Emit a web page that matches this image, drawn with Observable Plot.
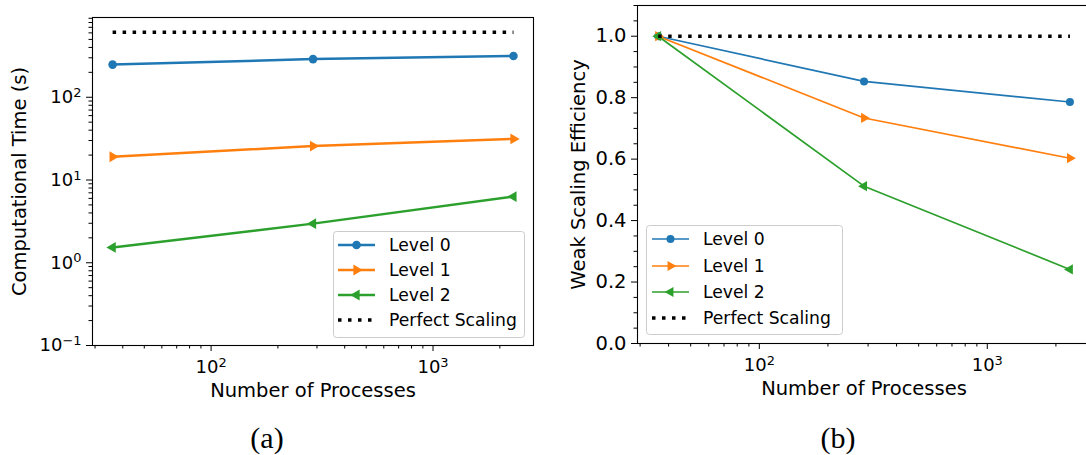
<!DOCTYPE html>
<html><head><meta charset="utf-8">
<script src="https://cdn.jsdelivr.net/npm/d3@7"></script>
<script src="https://cdn.jsdelivr.net/npm/@observablehq/plot@0.6"></script>
<style>
html,body{margin:0;padding:0;background:#fff;overflow:hidden;}
#wrap{position:relative;width:1086px;height:455px;font-family:"DejaVu Sans",sans-serif;}
.panel{position:absolute;top:0;overflow:hidden;}
.panel svg{max-width:none;}
.legend{position:absolute;overflow:visible;}
.cap{position:absolute;font-family:"Liberation Serif","DejaVu Serif",serif;font-size:30px;transform:translate(-50%,-50%);line-height:1;}
</style></head><body><div id="wrap"></div>
<script>
// ---------- data ----------
const processes = [36, 288, 2304];
const seriesNames = ["Level 0", "Level 1", "Level 2"];
const perfectName = "Perfect Scaling";
const timeLevel0 = [248, 289, 315];
const timeLevel1 = [19.1, 25.7, 31.4];
const timeLevel2 = [1.53, 2.97, 6.3];
const timePerfect = [610, 610, 610];
const effLevel0 = [1.0, 0.853, 0.786];
const effLevel1 = [1.0, 0.734, 0.603];
const effLevel2 = [1.0, 0.512, 0.241];
const effPerfect = [1.0, 1.0, 1.0];
// ---------- ticks / labels ----------
const xMajorTicks = [100, 1000];
const xMinorTicks = [30, 40, 50, 60, 70, 80, 90, 200, 300, 400, 500, 600, 700, 800, 900, 2000];
const timeMajorTicks = [0.1, 1, 10, 100];
const timeMinorTicks = [0.2,0.3,0.4,0.5,0.6,0.7,0.8,0.9,2,3,4,5,6,7,8,9,20,30,40,50,60,70,80,90,200,300,400,500,600,700,800,900];
const effMajorTicks = [0, 0.2, 0.4, 0.6, 0.8, 1.0];
const effMinorTicks = [0.05,0.1,0.15,0.25,0.3,0.35,0.45,0.5,0.55,0.65,0.7,0.75,0.85,0.9,0.95,1.05,1.1];
const xLabel = "Number of Processes";
const timeLabel = "Computational Time (s)";
const effLabel = "Weak Scaling Efficiency";
const captions = ["(a)", "(b)"];

const colors = ["#1f77b4", "#ff7f0e", "#2ca02c"];
const symbols = ["circle", "triangle", "triangle"];
const rotations = [0, 90, -90];

// power-of-ten label: "10^k" (k rendered as superscript afterwards)
const powFmt = d => "10^" + Math.round(Math.log10(d));

const toRows = (ys) => processes.map((p, i) => ({p, v: ys[i]}));

function buildPanel(opts) {
  const {series, perfect, yScale, yMajor, yMinor, yFmt, yFont, yLabel, yLabelDx, lw, rDot, rTri, marginTop, marginBottom, width, height} = opts;
  const marks = [];
  series.forEach((ys, i) => {
    const rows = toRows(ys);
    marks.push(Plot.line(rows, {x: "p", y: "v", stroke: colors[i], strokeWidth: lw}));
    marks.push(Plot.dot(rows, {x: "p", y: "v", fill: colors[i], stroke: "none",
      symbol: symbols[i], r: i === 0 ? rDot : rTri, rotate: rotations[i]}));
  });
  marks.push(Plot.line(toRows(perfect), {x: "p", y: "v", stroke: "#000", strokeWidth: 3.5,
    strokeDasharray: "3.5,6.5", strokeLinecap: "butt"}));
  marks.push(Plot.frame({stroke: "#000", strokeWidth: 1.1}));
  marks.push(Plot.axisX({ticks: xMajorTicks, tickFormat: powFmt, tickSize: 6, tickPadding: 9, fontSize: 18, label: null}));
  marks.push(Plot.axisX({ticks: xMinorTicks, tickFormat: () => "", tickSize: 3.5, label: null}));
  marks.push(Plot.axisY({ticks: yMajor, tickFormat: yFmt, tickSize: 6, tickPadding: 5, fontSize: yFont, label: null}));
  marks.push(Plot.axisY({ticks: yMinor, tickFormat: () => "", tickSize: 3.5, label: null}));
  marks.push(Plot.text([xLabel], {frameAnchor: "bottom", dy: 45, text: d => d, fontSize: 19.5, fill: "#000",
    textAnchor: "middle", lineAnchor: "middle"}));
  marks.push(Plot.text([yLabel], {frameAnchor: "left", dx: yLabelDx, rotate: -90, text: d => d, fontSize: 19.5, fill: "#000",
    textAnchor: "middle", lineAnchor: "middle"}));
  const svg = Plot.plot({
    width, height,
    marginLeft: 92, marginRight: opts.marginRight, marginTop, marginBottom,
    style: {fontFamily: "DejaVu Sans", fontSize: "19px", background: "transparent", color: "#000", maxWidth: "none"},
    x: {type: "log", domain: [29.22, 2836], label: null},
    y: {...yScale, label: null},
    marks
  });
  // turn "10^k" into 10 with a raised exponent
  d3.select(svg).selectAll("text").each(function() {
    const t = this.textContent;
    const m = /^10\^(-?\d+)$/.exec(t);
    if (!m) return;
    const el = d3.select(this);
    el.text(null);
    el.append("tspan").text("10");
    el.append("tspan").attr("dy", "-0.48em").attr("font-size", "0.72em")
      .text(m[1].replace("-", "\u2212"));
  });
  return svg;
}

const wrap = document.getElementById("wrap");

function panelDiv(left, w, h) {
  const d = document.createElement("div");
  d.className = "panel";
  d.style.left = left + "px";
  d.style.width = w + "px";
  d.style.height = h + "px";
  wrap.appendChild(d);
  return d;
}

const left = buildPanel({
  series: [timeLevel0, timeLevel1, timeLevel2], perfect: timePerfect,
  yScale: {type: "log", domain: [0.1, 920]}, yMajor: timeMajorTicks, yMinor: timeMinorTicks,
  yFmt: powFmt, yFont: 18, yLabel: timeLabel, yLabelDx: -73, lw: 2.5, rDot: 4.3, rTri: 4,
  marginTop: 17, marginBottom: 70, marginRight: 12, width: 545, height: 415
});
panelDiv(0, 545, 415).appendChild(left);

const right = buildPanel({
  series: [effLevel0, effLevel1, effLevel2], perfect: effPerfect,
  yScale: {type: "linear", domain: [0, 1.1]}, yMajor: effMajorTicks, yMinor: effMinorTicks,
  yFmt: d3.format(".1f"), yFont: 19.5, yLabel: effLabel, yLabelDx: -59, lw: 1.7, rDot: 4, rTri: 3.8,
  marginTop: 5, marginBottom: 72, marginRight: 0, width: 545, height: 415
});
panelDiv(545, 541, 415).appendChild(right);

// ---------- legends ----------
function legend(x, y, w, h, rowY, hx0, hx1, tx, lw, rDot, rTri) {
  const svg = d3.select(wrap).append("svg").attr("class", "legend")
    .style("left", "0px").style("top", "0px").attr("width", 1086).attr("height", 455)
    .style("pointer-events", "none");
  svg.append("rect").attr("x", x + 0.5).attr("y", y + 0.5).attr("width", w).attr("height", h)
    .attr("rx", 3).attr("fill", "#fff").attr("fill-opacity", 0.8).attr("stroke", "#cccccc").attr("stroke-width", 1);
  const mx = (hx0 + hx1) / 2;
  seriesNames.forEach((name, i) => {
    const cy = rowY[i];
    svg.append("line").attr("x1", hx0).attr("x2", hx1).attr("y1", cy).attr("y2", cy)
      .attr("stroke", colors[i]).attr("stroke-width", lw);
    const sym = d3.symbol(i === 0 ? d3.symbolCircle : d3.symbolTriangle, Math.PI * Math.pow(i === 0 ? rDot : rTri, 2));
    svg.append("path").attr("d", sym()).attr("fill", colors[i])
      .attr("transform", `translate(${mx},${cy}) rotate(${rotations[i]})`);
    svg.append("text").attr("x", tx).attr("y", cy).attr("dy", "0.36em").attr("font-size", 17.2)
      .attr("font-family", "DejaVu Sans").text(name);
  });
  const cy = rowY[3];
  svg.append("line").attr("x1", hx0).attr("x2", hx1).attr("y1", cy).attr("y2", cy)
    .attr("stroke", "#000").attr("stroke-width", 3.5).attr("stroke-dasharray", "3.5,6.5");
  svg.append("text").attr("x", tx).attr("y", cy).attr("dy", "0.36em").attr("font-size", 17.2)
    .attr("font-family", "DejaVu Sans").text(perfectName);
}
legend(333, 231, 191, 106, [245, 270, 295, 320], 338, 375, 389, 2.5, 4.3, 4);
legend(646, 225, 196, 109, [239, 266, 292, 318], 652, 689, 703, 1.7, 4, 3.8);

// ---------- captions ----------
[[267, 438], [838, 438]].forEach(([cx, cy], i) => {
  const d = document.createElement("div");
  d.className = "cap";
  d.style.left = cx + "px"; d.style.top = cy + "px";
  d.textContent = captions[i];
  wrap.appendChild(d);
});
</script></body></html>
